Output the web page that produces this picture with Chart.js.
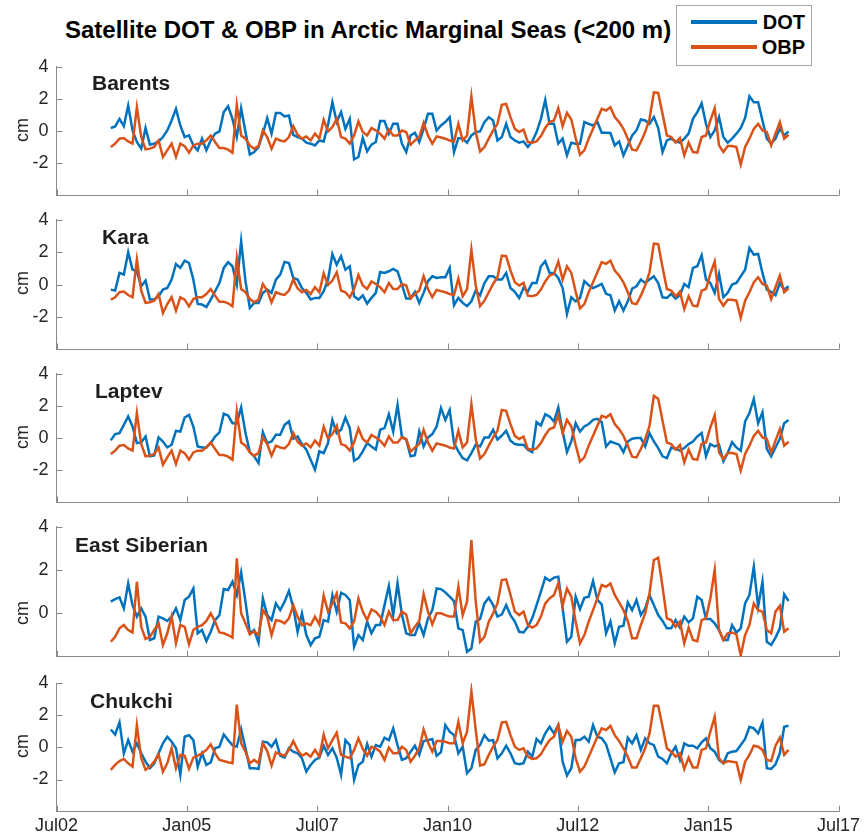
<!DOCTYPE html>
<html>
<head>
<meta charset="utf-8">
<title>Satellite DOT & OBP in Arctic Marginal Seas</title>
<script src="https://cdn.jsdelivr.net/npm/chart.js@4.4.1/dist/chart.umd.min.js"></script>
<style>
  body { margin: 0; background: #fff; }
  #fig { position: relative; width: 865px; height: 836px; overflow: hidden;
         font-family: "Liberation Sans", Arial, Helvetica, sans-serif; color: #000; }
  #fig canvas { position: absolute; left: 0; }
  .txt { position: absolute; white-space: nowrap; line-height: 1; }
  #title { left: 65px; top: 30px; transform: translateY(-50%); font-size: 24px; font-weight: bold; }
  #legend { position: absolute; left: 676px; top: 5px; width: 136px; height: 61px;
            border: 1px solid #a8a8a8; background: #fff; box-sizing: border-box; }
  .legline { position: absolute; left: 14px; width: 66px; height: 4px; }
  .legtxt { position: absolute; right: 6px; font-size: 20px; font-weight: bold; line-height: 1; transform: translateY(-50%); }
  .sea { font-size: 21px; font-weight: bold; color: #1e1e1e; transform: translateY(-50%); }
  .cm { font-size: 18px; color: #262626; transform: translate(-50%, -50%) rotate(-90deg); }
</style>
</head>
<body>
<div id="fig">
  <div id="title" class="txt">Satellite DOT &amp; OBP in Arctic Marginal Seas (&lt;200 m)</div>
  <div id="legend">
    <div class="legline" style="top:14px;background:#0072BD"></div>
    <div class="legtxt" style="top:16px">DOT</div>
    <div class="legline" style="top:39px;background:#D95319"></div>
    <div class="legtxt" style="top:41px">OBP</div>
  </div>
</div>
<script>
// monthly series, first month July 2003
const START_YEAR = 2003;
const START_MONTH = 7;

// x axis ticks (decimal years) and their labels
const xTickValues = [2002.5, 2005, 2007.5, 2010, 2012.5, 2015, 2017.5];
const xTickLabels = ['Jul02', 'Jan05', 'Jul07', 'Jan10', 'Jul12', 'Jan15', 'Jul17'];

const seaNames = ['Barents', 'Kara', 'Laptev', 'East Siberian', 'Chukchi'];

// dynamic ocean topography (cm)
const dotBarents = [
  0.19,0.29,0.76,0.31,1.59,0.04,-0.68,-1.09,0.19,-0.85,
  -0.78,-0.64,-0.37,0.04,0.66,1.38,0.35,-0.37,-0.27,-0.89,
  -1.19,-0.47,-1.19,-0.58,-0.16,-0.02,1.18,1.55,0.76,-0.37,
  1.42,-0.06,-1.46,-1.30,-0.99,-0.16,0.80,-0.16,1.13,1.13,
  0.91,0.97,-0.23,-0.37,-0.47,-0.72,-0.78,-0.89,-0.58,-0.64,
  0.39,1.79,0.56,1.18,0.14,0.76,-1.75,-1.61,-0.43,-1.26,
  -0.84,-0.68,0.62,0.62,-0.16,0.45,0.45,-0.78,-1.30,-0.27,
  -0.10,-0.68,0.14,1.07,1.07,0.04,0.35,0.56,0.87,-1.30,
  -0.43,-0.47,-0.72,-0.27,-0.06,-0.02,0.56,0.87,0.66,-0.58,
  -0.37,0.45,-0.37,-0.58,-0.72,-0.64,-0.99,-0.64,-0.06,0.76,
  1.94,0.45,0.45,-0.78,-0.47,-1.51,-0.72,-0.78,-0.78,0.56,
  0.45,0.35,0.56,-0.10,-0.10,-0.12,-0.89,-0.64,-1.51,-0.89,
  -0.27,0.04,0.72,0.66,0.45,0.87,0.19,-1.30,-0.58,-0.47,
  -0.64,-0.72,-0.47,-0.16,0.76,1.18,1.73,0.45,-0.37,0.04,
  0.87,-0.37,-0.72,-0.47,-0.16,0.19,0.82,2.16,1.79,1.79,
  0.66,-0.47,-0.78,-0.47,0.14,-0.27,-0.02
];
const dotKara = [
  -0.31,-0.37,0.72,0.62,1.99,0.92,0.82,-0.10,0.25,-0.92,
  -0.92,-0.72,-0.31,-0.21,0.31,1.27,1.03,1.48,1.33,0.31,
  -1.19,-1.23,-1.38,-0.92,-0.41,0.10,1.03,1.38,1.13,0.00,
  2.67,0.21,-1.44,-1.13,-1.13,-0.51,-0.31,-0.51,0.31,0.62,
  1.40,1.33,0.41,0.31,-0.21,-0.51,-0.92,-0.82,-0.82,-0.41,
  0.31,1.89,1.23,1.75,0.92,1.13,-0.72,-0.92,-0.66,-1.17,
  -0.82,-0.51,0.78,0.72,0.82,0.97,0.82,0.00,-0.86,-0.86,
  -0.45,-1.13,-0.51,0.21,0.51,0.41,0.45,0.45,1.03,-1.27,
  -0.82,-1.13,-1.33,-1.03,-0.37,-0.66,0.10,0.51,0.51,0.31,
  0.31,0.72,-0.21,-0.45,-0.82,-0.21,-0.41,0.10,0.10,1.13,
  1.44,0.72,0.72,0.41,-0.21,-1.81,-0.78,-1.03,-0.82,0.21,
  -0.04,-0.21,-0.10,0.04,-0.57,-0.66,-1.60,-1.03,-1.60,-1.03,
  -0.25,-0.10,0.31,0.10,0.31,0.51,0.10,-0.78,-0.82,-0.57,
  -0.86,-0.66,0.04,-0.16,1.03,1.13,1.81,0.31,0.10,-0.51,
  0.66,-0.78,-0.51,0.00,0.10,0.51,0.92,2.26,1.85,1.89,
  0.72,-0.31,-0.45,-0.66,0.10,-0.31,-0.10
];
const dotLaptev = [
  -0.14,0.25,0.31,0.82,1.34,0.72,-0.31,-0.27,0.10,-1.13,
  -1.07,0.04,-0.21,-0.58,-0.41,0.45,0.41,1.28,1.44,0.72,
  -0.52,-0.58,-0.58,-0.31,0.10,0.35,1.51,1.40,0.93,0.93,
  1.90,0.31,-0.87,-1.13,-1.55,0.37,-0.31,-0.21,0.21,0.21,
  0.82,1.03,-0.04,0.10,-0.37,-0.72,-1.34,-1.96,-0.82,-0.93,
  -0.31,1.13,0.31,0.52,1.28,0.62,-1.40,-1.24,-0.82,-0.31,
  -0.52,-0.72,0.52,0.62,1.48,0.41,2.06,0.10,-0.10,-1.13,
  -1.07,0.41,-0.52,0.04,0.25,0.72,1.86,1.13,1.75,-0.31,
  -0.82,-1.24,-1.38,-0.93,-0.41,-0.52,0.04,0.04,0.52,-0.10,
  0.16,0.45,-0.16,-0.37,-0.41,-0.41,-0.72,-0.87,0.99,0.78,
  1.48,1.34,1.03,1.90,0.41,-0.87,-0.21,0.93,0.41,0.72,
  0.87,1.13,1.20,0.99,-0.52,-0.21,-0.31,-0.41,-0.87,-0.21,
  -0.04,0.00,0.00,-0.52,0.31,-0.21,-0.62,-1.13,-1.24,-0.58,
  -0.66,-0.78,-0.62,-0.37,-0.21,0.10,0.31,-1.13,-0.37,-0.52,
  -0.41,-1.44,-0.93,-0.25,-0.58,-0.78,1.03,1.55,2.43,0.93,
  1.61,-0.66,-1.13,-0.58,-0.04,0.93,1.13
];
const dotEastSiberian = [
  0.54,0.66,0.74,0.23,1.38,0.38,-0.15,0.23,-0.15,-1.23,
  -1.15,-0.15,-0.23,-0.35,-0.15,0.23,-0.31,0.62,0.77,1.15,
  -0.92,-0.77,-1.28,-0.85,-0.31,-0.08,1.12,1.08,1.46,0.85,
  1.89,0.54,-0.92,-0.77,-1.35,0.69,-0.08,-0.31,0.46,0.15,
  0.54,1.03,0.26,-0.85,0.00,-1.00,-1.46,-1.15,-1.08,-0.31,
  -0.38,0.85,0.08,0.95,0.85,0.62,-1.54,-1.00,-1.23,-0.38,
  -0.92,-0.54,-0.54,0.38,1.26,-0.08,1.38,-0.05,-0.92,-1.00,
  -1.00,-0.46,-1.00,-0.23,0.15,1.15,1.12,0.97,0.77,0.57,
  -0.69,-0.77,-1.77,-1.62,-0.38,-0.26,0.46,0.72,0.38,-0.15,
  -0.05,0.38,-0.08,-0.38,-0.85,-0.88,-0.62,-0.23,0.38,1.00,
  1.65,1.51,1.65,1.69,0.23,-1.31,-1.08,0.77,0.20,0.72,
  0.77,1.49,0.62,0.42,-0.92,-0.38,-1.38,-0.62,-0.57,0.51,
  0.15,0.62,-0.08,0.23,0.85,0.38,-0.08,-0.35,-0.69,-0.69,
  -0.31,-0.66,-0.15,-0.42,-0.23,0.77,0.62,-0.26,-0.26,-0.46,
  -0.77,-1.23,-1.23,-0.54,-0.88,-0.69,0.46,0.85,2.15,0.31,
  1.46,-1.31,-1.46,-1.12,-0.69,0.88,0.57
];
const dotChukchi = [
  1.11,0.80,1.55,-0.37,0.45,-0.27,0.25,-0.37,-0.89,-1.30,
  -0.99,-0.37,0.25,0.66,0.35,-0.06,-1.71,0.66,0.76,0.45,
  -1.20,-0.37,-1.09,-0.93,-0.06,0.04,0.80,0.45,0.14,0.04,
  1.13,-0.06,-1.30,-1.30,-1.34,0.35,0.31,0.04,0.45,-0.52,
  -0.64,-0.06,-0.27,-0.37,-0.68,-1.51,-1.09,-0.78,-0.64,0.10,
  -0.47,-0.06,-0.64,-1.71,0.45,0.14,-2.02,-1.09,-0.89,0.21,
  -0.58,0.14,0.04,0.60,0.45,1.18,0.14,-0.78,-0.68,-0.27,
  0.10,-0.47,0.39,0.45,0.52,-0.52,-0.30,1.38,0.97,0.76,
  -0.37,0.04,-1.61,-1.30,-0.16,0.14,0.76,0.41,0.45,-0.68,
  -0.37,0.10,-0.37,-0.99,-1.05,-0.99,-0.27,-0.58,0.52,0.25,
  0.87,1.28,0.87,1.38,-0.89,-1.75,-1.30,0.45,0.45,0.66,
  0.35,1.38,0.66,0.56,0.19,-0.68,-1.55,-0.99,-0.93,0.60,
  0.25,0.76,-0.16,0.56,0.25,0.14,-0.58,-0.72,-0.99,-0.37,
  0.04,-0.78,0.25,0.10,0.10,-0.06,0.31,0.56,-0.06,-0.27,
  -0.78,-0.99,-0.37,-0.27,-0.23,0.14,0.52,1.28,1.18,0.87,
  1.55,-1.30,-1.34,-1.05,-0.37,1.28,1.34
];

// ocean bottom pressure (cm water equivalent)
const obpBarents = [
  -0.99,-0.78,-0.47,-0.43,-0.64,-0.78,1.48,-0.37,-1.13,-1.09,
  -0.99,-0.58,-1.61,-1.20,-0.78,-1.61,-0.78,-0.93,-1.34,-0.89,
  -0.78,-0.78,-0.58,-0.27,-0.68,-1.05,-1.05,-1.15,-1.34,1.63,
  -0.27,-0.47,-0.89,-1.09,-0.93,0.04,-0.37,-1.09,-0.47,-0.58,
  -0.64,-0.37,0.31,-0.23,-0.47,-0.33,-0.58,-0.16,-0.47,0.70,
  -0.02,0.25,0.76,-0.37,-0.47,-0.78,-0.27,0.60,-0.06,-0.27,
  0.19,0.04,-0.16,-0.47,0.10,-0.27,-0.27,0.04,-0.06,-0.85,
  -0.58,-0.37,0.52,-0.27,-0.78,-0.33,-0.40,-0.47,-0.58,-0.64,
  0.45,-0.58,-0.27,2.16,-0.06,-1.26,-0.99,-0.47,0.04,0.45,
  1.63,1.69,0.87,0.14,-0.06,0.10,-0.68,-0.72,-0.64,-0.31,
  0.19,0.56,0.66,1.42,0.31,1.13,0.72,-0.43,-1.46,-1.20,
  -0.47,0.14,0.76,1.38,1.28,1.48,0.87,0.56,0.14,-0.47,
  -1.15,-1.20,-0.68,-0.06,0.76,2.41,2.37,1.07,-0.27,-0.37,
  -0.72,-0.43,-1.51,-0.72,-1.30,-1.34,-0.37,-0.27,0.66,1.42,
  -0.89,-1.30,-0.93,-0.93,-0.99,-2.08,-0.99,-0.47,0.14,0.45,
  0.04,-0.06,-0.89,-0.16,0.56,-0.47,-0.23
];
const obpKara = [
  -0.92,-0.78,-0.47,-0.43,-0.64,-0.78,1.54,-0.37,-1.13,-1.09,
  -0.99,-0.58,-1.75,-1.20,-0.78,-1.61,-0.78,-0.93,-1.34,-0.89,
  -0.78,-0.78,-0.58,-0.27,-0.68,-1.05,-1.05,-1.15,-1.34,1.63,
  -0.27,-0.47,-0.89,-1.09,-0.93,0.04,-0.37,-1.09,-0.47,-0.58,
  -0.64,-0.37,0.31,-0.23,-0.47,-0.33,-0.58,-0.16,-0.47,0.70,
  -0.02,0.25,0.76,-0.37,-0.47,-0.78,-0.27,0.60,-0.06,-0.27,
  0.19,0.04,-0.16,-0.47,0.10,-0.27,-0.27,0.04,-0.06,-0.85,
  -0.58,-0.37,0.52,-0.27,-0.78,-0.33,-0.40,-0.47,-0.58,-0.64,
  0.37,-0.72,-0.27,2.16,-0.06,-1.33,-0.99,-0.47,0.04,0.45,
  1.79,1.75,0.87,0.14,-0.06,0.10,-0.68,-0.72,-0.64,-0.31,
  0.19,0.56,0.66,1.42,0.31,1.13,0.72,-0.43,-1.46,-1.20,
  -0.47,0.14,0.76,1.38,1.28,1.48,0.87,0.56,0.14,-0.47,
  -1.15,-1.20,-0.68,-0.06,0.76,2.53,2.49,1.07,-0.27,-0.37,
  -0.72,-0.43,-1.51,-0.72,-1.30,-1.34,-0.37,-0.27,0.66,1.42,
  -0.89,-1.30,-0.93,-0.93,-0.99,-2.05,-0.99,-0.47,0.14,0.45,
  0.04,-0.06,-0.89,-0.16,0.56,-0.47,-0.23
];
const obpLaptev = [
  -0.99,-0.78,-0.47,-0.43,-0.64,-0.78,1.55,-0.37,-1.13,-1.09,
  -0.99,-0.58,-1.65,-1.20,-0.78,-1.61,-0.78,-0.93,-1.34,-0.89,
  -0.78,-0.78,-0.58,-0.27,-0.68,-1.05,-1.05,-1.15,-1.34,1.65,
  -0.27,-0.47,-0.89,-1.09,-0.93,0.04,-0.37,-1.09,-0.47,-0.58,
  -0.64,-0.37,0.31,-0.23,-0.47,-0.33,-0.58,-0.16,-0.47,0.70,
  -0.02,0.25,0.76,-0.37,-0.47,-0.78,-0.27,0.60,-0.06,-0.27,
  0.19,0.04,-0.16,-0.47,0.10,-0.27,-0.27,0.04,-0.06,-0.85,
  -0.58,-0.37,0.52,-0.27,-0.78,-0.33,-0.40,-0.47,-0.58,-0.64,
  0.45,-0.58,-0.27,2.10,-0.06,-1.26,-0.99,-0.47,0.04,0.45,
  1.75,1.69,0.87,0.14,-0.06,0.10,-0.68,-0.72,-0.64,-0.31,
  0.19,0.56,0.66,1.42,0.31,1.13,0.72,-0.43,-1.46,-1.20,
  -0.47,0.14,0.76,1.38,1.28,1.48,0.87,0.56,0.14,-0.47,
  -1.15,-1.20,-0.68,-0.06,0.76,2.62,2.45,1.07,-0.27,-0.37,
  -0.72,-0.43,-1.51,-0.72,-1.30,-1.34,-0.37,-0.27,0.66,1.42,
  -0.89,-1.30,-0.93,-0.93,-0.99,-2.02,-0.99,-0.47,0.14,0.45,
  0.04,-0.06,-0.89,-0.16,0.56,-0.47,-0.23
];
const obpEastSiberian = [
  -1.31,-1.08,-0.69,-0.54,-0.77,-0.88,1.46,-0.62,-1.18,-1.08,
  -0.77,-0.46,-1.46,-0.92,-0.15,-1.38,-0.54,-0.62,-1.43,-0.77,
  -0.62,-0.54,-0.35,0.00,-0.38,-0.88,-0.92,-1.00,-1.12,2.54,
  0.00,-0.46,-0.97,-0.82,-1.00,0.15,-0.15,-1.00,-0.31,-0.35,
  -0.46,-0.23,0.38,-0.15,-0.54,-0.46,-0.54,-0.15,-0.51,0.82,
  0.08,0.46,0.92,-0.42,-0.46,-0.69,-0.38,0.69,0.08,-0.31,
  0.18,0.08,-0.15,-0.54,0.08,-0.31,-0.31,0.08,-0.05,-0.92,
  -0.62,-0.35,0.89,0.08,-0.51,0.00,0.00,-0.08,-0.15,-0.15,
  1.23,-0.08,0.54,3.38,0.54,-1.31,-1.08,-0.38,0.00,0.46,
  1.54,1.57,0.85,0.08,-0.08,0.08,-0.54,-0.66,-0.54,-0.15,
  0.46,0.69,0.85,1.38,0.35,1.15,0.77,-0.38,-1.38,-1.00,
  -0.38,0.15,0.69,1.31,1.23,1.38,0.85,0.51,0.15,-0.35,
  -1.15,-1.15,-0.54,0.00,0.92,2.46,2.57,1.23,-0.23,-0.31,
  -0.62,-0.38,-1.38,-0.66,-1.23,-1.28,-0.31,-0.23,0.69,2.00,
  -0.77,-1.23,-0.92,-0.88,-0.97,-1.95,-1.00,-0.54,0.46,0.15,
  0.08,-0.77,-0.92,0.08,0.35,-0.85,-0.69
];
const obpChukchi = [
  -1.40,-1.09,-0.85,-0.72,-0.99,-1.20,1.38,-0.68,-1.40,-1.20,
  -0.89,-0.43,-1.51,-0.99,-0.06,-1.30,-0.47,-0.52,-1.34,-0.64,
  -0.52,-0.37,-0.16,0.19,-0.37,-0.78,-0.85,-0.93,-0.99,2.66,
  0.25,-0.27,-0.99,-0.78,-0.99,0.25,-0.23,-1.13,-0.31,-0.43,
  -0.52,-0.16,0.39,-0.16,-0.52,-0.37,-0.58,-0.16,-0.58,0.80,
  -0.06,0.45,0.91,-0.47,-0.58,-0.68,-0.16,0.56,-0.10,-0.52,
  0.04,-0.06,-0.27,-0.78,-0.02,-0.37,-0.37,0.04,-0.16,-0.89,
  -0.52,-0.06,1.11,0.31,-0.27,0.39,0.39,0.35,0.25,0.25,
  1.59,0.25,0.97,3.48,1.07,-1.13,-1.05,-0.47,0.04,0.45,
  1.55,1.59,0.76,0.04,-0.16,-0.06,-0.58,-0.72,-0.68,-0.43,
  0.04,0.45,0.66,1.38,0.35,1.01,0.66,-0.68,-1.51,-1.20,
  -0.58,0.04,0.66,1.18,1.07,1.34,0.76,0.39,-0.06,-0.58,
  -1.26,-1.26,-0.68,-0.06,0.87,2.58,2.58,1.28,-0.06,-0.27,
  -0.58,-0.37,-1.34,-0.64,-1.26,-1.26,-0.16,-0.06,0.97,1.90,
  -0.68,-0.99,-0.85,-0.89,-0.93,-2.02,-0.89,-0.47,0.10,0.04,
  -0.16,-0.78,-0.85,0.10,0.60,-0.47,-0.16
];

const dotSeries = [dotBarents, dotKara, dotLaptev, dotEastSiberian, dotChukchi];
const obpSeries = [obpBarents, obpKara, obpLaptev, obpEastSiberian, obpChukchi];

// y limits and labelled ticks per panel
const yLimits = [[-4, 4], [-4, 4], [-4, 4], [-2, 4], [-4, 4]];
const yTickValues = [[-2, 0, 2, 4], [-2, 0, 2, 4], [-2, 0, 2, 4], [0, 2, 4], [-2, 0, 2, 4]];

// page geometry
const PLOT_LEFT = 56.5;
const PLOT_RIGHT = 838.5;
const PAGE_W = 865;
const PAGE_H = 836;
const CANVAS_PAD = 20;
const panelBox = [[66.7, 195.5], [219.7, 349.5], [373.7, 502.5], [526.7, 656.7], [683, 811.7]];
const seaLabelPos = [[92, 82], [102, 236], [95, 390], [75, 544], [90, 700]];
const cmLabelY = [130, 283, 437, 613, 746];

const BLUE = '#0072BD';
const ORANGE = '#D95319';
const AXIS = '#8a8a8a';
const TEXT = '#262626';
const TICK_LEN = 6;

Chart.defaults.font.family = '"Liberation Sans", Arial, Helvetica, sans-serif';
Chart.defaults.color = TEXT;

const times = dotBarents.map((_, i) => START_YEAR + (START_MONTH - 0.5 + i) / 12);
const toPoints = vals => vals.map((v, i) => ({ x: times[i], y: v }));

// MATLAB style tick marks pointing into the plot
const inwardTicks = {
  id: 'inwardTicks',
  afterDraw(chart) {
    const { ctx, chartArea, scales: { x, y } } = chart;
    ctx.save();
    ctx.strokeStyle = AXIS;
    ctx.lineWidth = 1;
    ctx.beginPath();
    x.ticks.forEach(t => {
      const px = Math.round(x.getPixelForValue(t.value)) + 0.5;
      ctx.moveTo(px, chartArea.bottom);
      ctx.lineTo(px, chartArea.bottom - TICK_LEN);
    });
    y.ticks.forEach(t => {
      const py = Math.round(y.getPixelForValue(t.value)) + 0.5;
      ctx.moveTo(chartArea.left, py);
      ctx.lineTo(chartArea.left + TICK_LEN, py);
    });
    ctx.stroke();
    ctx.restore();
  }
};

const fig = document.getElementById('fig');

function addText(cls, text, left, top) {
  const el = document.createElement('div');
  el.className = 'txt ' + cls;
  el.textContent = text;
  el.style.left = left + 'px';
  el.style.top = top + 'px';
  fig.appendChild(el);
}

seaNames.forEach((name, p) => {
  const last = p === seaNames.length - 1;
  const [plotTop, plotBottom] = panelBox[p];
  const canvasTop = Math.floor(plotTop) - CANVAS_PAD;
  const canvasBottom = last ? PAGE_H : Math.ceil(plotBottom) + CANVAS_PAD;
  const xAxisH = last ? PAGE_H - plotBottom : 0;

  const canvas = document.createElement('canvas');
  canvas.width = PAGE_W;
  canvas.height = canvasBottom - canvasTop;
  canvas.style.top = canvasTop + 'px';
  fig.appendChild(canvas);

  const padTop = plotTop - canvasTop;
  const padBottom = canvas.height - padTop - (plotBottom - plotTop) - xAxisH;

  new Chart(canvas.getContext('2d'), {
    type: 'line',
    data: {
      datasets: [
        {
          label: 'OBP',
          data: toPoints(obpSeries[p]),
          borderColor: ORANGE,
          backgroundColor: ORANGE,
          borderWidth: 2.5,
          pointRadius: 0,
          tension: 0
        },
        {
          label: 'DOT',
          data: toPoints(dotSeries[p]),
          borderColor: BLUE,
          backgroundColor: BLUE,
          borderWidth: 2.5,
          pointRadius: 0,
          tension: 0
        }
      ]
    },
    options: {
      responsive: false,
      animation: false,
      events: [],
      layout: { padding: { top: padTop, right: PAGE_W - PLOT_RIGHT, bottom: padBottom, left: 0 } },
      plugins: { legend: { display: false }, tooltip: { enabled: false } },
      scales: {
        x: {
          type: 'linear',
          min: xTickValues[0],
          max: xTickValues[xTickValues.length - 1],
          afterBuildTicks: s => { s.ticks = xTickValues.map(v => ({ value: v })); },
          afterFit: s => { s.height = xAxisH; },
          grid: { display: false, drawTicks: false },
          border: { display: true, color: AXIS, width: 1 },
          ticks: {
            display: last,
            autoSkip: false,
            maxRotation: 0,
            padding: 4,
            font: { size: 18 },
            color: TEXT,
            callback: v => xTickLabels[xTickValues.indexOf(v)]
          }
        },
        y: {
          min: yLimits[p][0],
          max: yLimits[p][1],
          afterBuildTicks: s => { s.ticks = yTickValues[p].map(v => ({ value: v })); },
          afterFit: s => { s.width = PLOT_LEFT; },
          grid: { display: false, drawTicks: false },
          border: { display: true, color: AXIS, width: 1 },
          ticks: { padding: 8, font: { size: 18 }, color: TEXT }
        }
      }
    },
    plugins: [inwardTicks]
  });

  addText('sea', name, seaLabelPos[p][0], seaLabelPos[p][1]);
  addText('cm', 'cm', 22, cmLabelY[p]);
});

// keep the title and legend above the panel canvases
fig.appendChild(document.getElementById('title'));
fig.appendChild(document.getElementById('legend'));
</script>
</body>
</html>
